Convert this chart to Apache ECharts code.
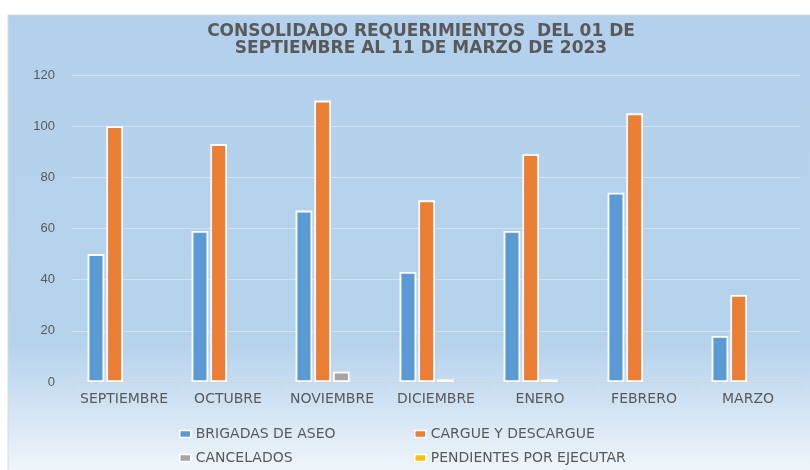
<!DOCTYPE html>
<html>
<head>
<meta charset="utf-8">
<script src="https://cdn.jsdelivr.net/npm/echarts@6/dist/echarts.min.js"></script>
<style>
  html, body { margin: 0; padding: 0; background: #fff; }
  #chart { width: 810px; height: 470px; }
</style>
</head>
<body>
<div id="chart"></div>
<script>
// data
const months = ['SEPTIEMBRE', 'OCTUBRE', 'NOVIEMBRE', 'DICIEMBRE', 'ENERO', 'FEBRERO', 'MARZO'];
const brigadas = [50, 59, 67, 43, 59, 74, 18];
const cargue = [100, 93, 110, 71, 89, 105, 34];
const cancelados = [0, 0, 4, 1, 1, 0, 0];
const pendientes = [0, 0, 0, 0, 0, 0, 0];
const yTicks = [0, 20, 40, 60, 80, 100, 120];

const textGray = '#595959';
const labelFont = 'DejaVu Sans';

// zero values are not drawn in the original
const hideZero = arr => arr.map(v => (v === 0 ? '-' : v));

function barSeries(name, data, color) {
  return {
    name: name,
    type: 'bar',
    data: hideZero(data),
    barGap: '12%',
    barCategoryGap: '30%',
    itemStyle: { color: color, borderColor: '#fff', borderWidth: 1.8 }
  };
}

const legendCommon = {
  orient: 'vertical',
  itemWidth: 11,
  itemHeight: 7,
  itemGap: 10,
  icon: 'rect',
  textStyle: { color: textGray, fontSize: 14, fontFamily: labelFont },
  itemStyle: { borderColor: '#fff', borderWidth: 1.5 }
};

let chart = echarts.init(document.getElementById('chart'));
chart.setOption({
  animation: false,
  backgroundColor: '#fff',
  graphic: [{
    type: 'rect',
    z: -10,
    shape: { x: 8, y: 15, width: 810, height: 460 },
    style: {
      stroke: '#d9d9d9',
      lineWidth: 1,
      fill: {
        type: 'linear', x: 0, y: 0, x2: 0, y2: 1,
        colorStops: [
          { offset: 0, color: '#b3d1ec' },
          { offset: 0.72, color: '#b6d3ec' },
          { offset: 1, color: '#f1f6fb' }
        ]
      }
    }
  }],
  title: {
    text: 'CONSOLIDADO REQUERIMIENTOS  DEL 01 DE\nSEPTIEMBRE AL 11 DE MARZO DE 2023',
    left: 416,
    top: 18,
    textAlign: 'center',
    textStyle: {
      color: textGray,
      fontSize: 17,
      fontWeight: 'bold',
      fontFamily: labelFont,
      lineHeight: 17
    }
  },
  legend: [
    Object.assign({ left: 174, top: 422, data: ['BRIGADAS DE ASEO', 'CANCELADOS'] }, legendCommon),
    Object.assign({ left: 409, top: 422, data: ['CARGUE Y DESCARGUE', 'PENDIENTES POR EJECUTAR'] }, legendCommon)
  ],
  grid: { left: 72, right: 10, top: 75, bottom: 88, containLabel: false },
  xAxis: {
    type: 'category',
    data: months,
    axisLine: { lineStyle: { color: '#d0d5da', width: 1 } },
    axisTick: { show: true, length: 5, lineStyle: { color: '#d0d5da' } },
    axisLabel: { interval: 0, color: textGray, fontSize: 14, fontFamily: labelFont, margin: 10 }
  },
  yAxis: {
    type: 'value',
    min: yTicks[0],
    max: yTicks[yTicks.length - 1],
    interval: yTicks[1] - yTicks[0],
    axisLine: { show: false },
    axisTick: { show: false },
    axisLabel: { color: textGray, fontSize: 13, fontFamily: 'Liberation Sans', margin: 17 },
    splitLine: { lineStyle: { color: '#d0e1f1', width: 1 } }
  },
  series: [
    barSeries('BRIGADAS DE ASEO', brigadas, '#5b9bd5'),
    barSeries('CARGUE Y DESCARGUE', cargue, '#ed7d31'),
    barSeries('CANCELADOS', cancelados, '#a5a5a5'),
    barSeries('PENDIENTES POR EJECUTAR', pendientes, '#ffc000')
  ]
});
</script>
</body>
</html>
